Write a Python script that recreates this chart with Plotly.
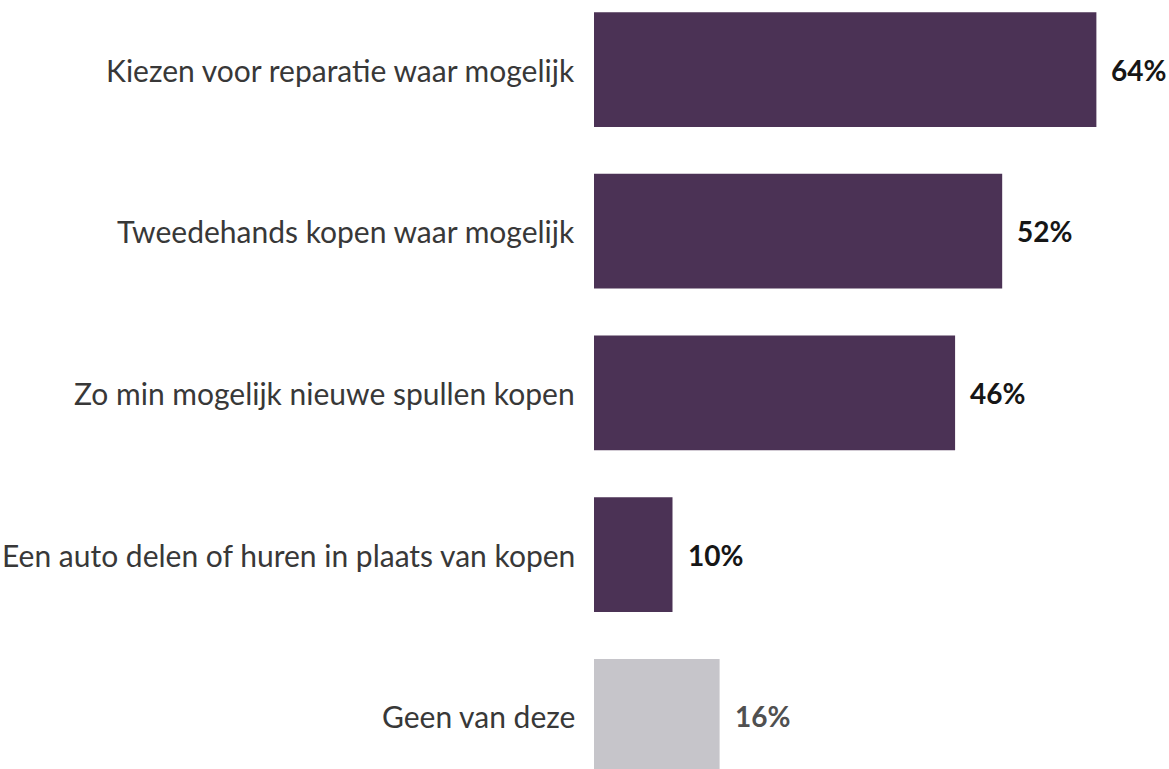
import plotly.graph_objects as go

categories = [
    "Kiezen voor reparatie waar mogelijk",
    "Tweedehands kopen waar mogelijk",
    "Zo min mogelijk nieuwe spullen kopen",
    "Een auto delen of huren in plaats van kopen",
    "Geen van deze",
]
values = [64, 52, 46, 10, 16]
bar_colors = ["#4b3255", "#4b3255", "#4b3255", "#4b3255", "#c6c5ca"]
value_colors = ["#161616", "#161616", "#161616", "#161616", "#505050"]
value_labels = [f"{v}%" for v in values]

FONT = "Lato"

fig = go.Figure(
    go.Bar(
        x=values,
        y=categories,
        orientation="h",
        marker=dict(color=bar_colors, line=dict(width=0)),
        width=0.71,
        hoverinfo="skip",
    )
)

annotations = []
for cat, v, lab, col in zip(categories, values, value_labels, value_colors):
    # value label to the right of each bar
    annotations.append(dict(
        x=v, y=cat, xref="x", yref="y", text=f"<b>{lab}</b>",
        showarrow=False, xanchor="left", yanchor="middle", xshift=13,
        font=dict(family=FONT, size=28, color=col),
    ))
    # category label, right-aligned against the bar origin
    annotations.append(dict(
        x=0, y=cat, xref="paper", yref="y", text=cat,
        showarrow=False, xanchor="right", yanchor="middle", xshift=-17,
        font=dict(family=FONT, size=30, color="#383838"),
    ))

fig.update_layout(
    width=1169,
    height=769,
    margin=dict(l=594, r=0, t=0, b=0),
    paper_bgcolor="white",
    plot_bgcolor="white",
    showlegend=False,
    annotations=annotations,
    xaxis=dict(range=[0, 73.25], visible=False, fixedrange=True),
    yaxis=dict(
        type="category",
        categoryorder="array",
        categoryarray=categories,
        range=[4.326, -0.43],
        showticklabels=False,
        showgrid=False,
        zeroline=False,
        ticks="",
        fixedrange=True,
    ),
)

fig.write_html("out.html", config={"displayModeBar": False})
